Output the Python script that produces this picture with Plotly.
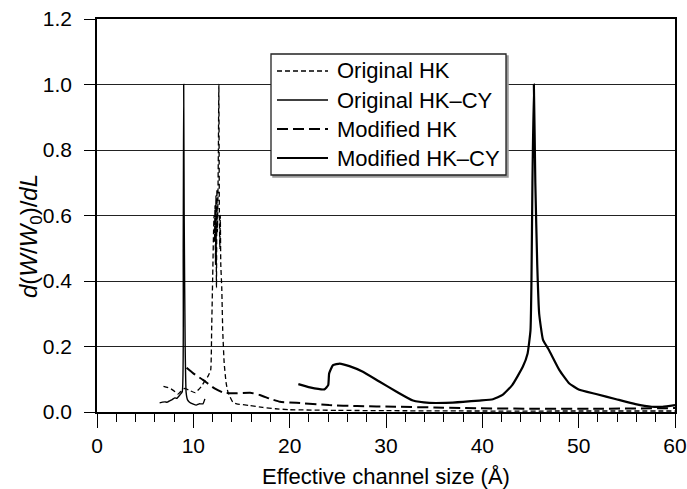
import plotly.graph_objects as go

# Effective channel size (Å) and normalised derivative d(W/W0)/dL for each model
orig_hk_x = [6.9, 7.3, 7.6, 8.1, 8.4, 9.1, 9.6, 10.2, 10.8, 11.2, 11.5, 11.8,
             11.9, 12.0, 12.1, 12.15, 12.2, 12.25, 12.3, 12.35, 12.4, 12.45,
             12.5, 12.55, 12.6, 12.65, 12.7, 12.75, 12.8, 12.85, 12.95, 13.05,
             13.2, 13.4, 13.6, 14.1, 14.5, 15.8, 17.2, 18.5, 20.0, 25.0, 30.0,
             40.0, 50.0, 60.0]
orig_hk_y = [0.078, 0.075, 0.072, 0.062, 0.055, 0.072, 0.066, 0.059, 0.077,
             0.095, 0.108, 0.128, 0.25, 0.40, 0.55, 0.60, 0.52, 0.63, 0.45,
             0.66, 0.38, 0.68, 0.55, 0.65, 0.80, 1.00, 0.62, 0.50, 0.60, 0.45,
             0.38, 0.25, 0.15, 0.09, 0.06, 0.03, 0.025, 0.02, 0.014, 0.010,
             0.007, 0.005, 0.004, 0.003, 0.003, 0.003]

orig_hkcy_x = [6.5, 6.8, 7.05, 7.3, 7.6, 7.8, 8.1, 8.3, 8.6, 8.85, 8.95, 9.0,
               9.05, 9.15, 9.25, 9.4, 9.6, 10.0, 10.3, 10.6, 11.0, 11.2]
orig_hkcy_y = [0.028, 0.030, 0.031, 0.030, 0.035, 0.038, 0.043, 0.042, 0.052,
               0.062, 0.50, 1.00, 0.60, 0.20, 0.06, 0.037, 0.030, 0.024,
               0.021, 0.025, 0.025, 0.040]

mod_hk_x = [9.3, 10.0, 11.0, 12.2, 13.1, 14.1, 15.9, 16.9, 18.0, 19.0, 20.7,
            24.1, 27.0, 31.0, 35.0, 38.0, 45.0, 52.0, 60.0]
mod_hk_y = [0.135, 0.118, 0.098, 0.072, 0.059, 0.057, 0.059, 0.052, 0.040,
            0.031, 0.028, 0.021, 0.018, 0.016, 0.014, 0.012, 0.010, 0.010,
            0.012]

mod_hkcy_x = [20.9, 22.1, 23.6, 24.0, 24.1, 24.5, 25.2, 26.2, 27.6, 29.3,
              31.1, 32.8, 34.5, 36.2, 38.0, 39.7, 41.1, 42.1, 43.1, 44.2,
              44.7, 45.0, 45.1, 45.2, 45.35, 45.5, 45.7, 45.9, 46.3, 46.9,
              48.0, 49.0, 50.0, 51.8, 53.9, 55.9, 57.6, 58.7, 60.0]
mod_hkcy_y = [0.085, 0.075, 0.069, 0.082, 0.118, 0.143, 0.148, 0.140, 0.123,
              0.093, 0.062, 0.035, 0.028, 0.028, 0.031, 0.035, 0.039, 0.052,
              0.082, 0.138, 0.179, 0.25, 0.40, 0.70, 1.00, 0.70, 0.45, 0.30,
              0.22, 0.19, 0.128, 0.088, 0.069, 0.055, 0.039, 0.024, 0.016,
              0.016, 0.021]

series_names = ["Original HK", "Original HK\u2013CY", "Modified HK",
                "Modified HK\u2013CY"]
x_ticks = [0, 10, 20, 30, 40, 50, 60]
y_ticks = [0.0, 0.2, 0.4, 0.6, 0.8, 1.0, 1.2]

FONT = "Liberation Sans, Arial, Helvetica, sans-serif"
styles = [
    dict(width=1.3, dash="5px,3px"),
    dict(width=1.4, dash="solid"),
    dict(width=2, dash="11px,5px"),
    dict(width=2.2, dash="solid"),
]
data = [(orig_hk_x, orig_hk_y), (orig_hkcy_x, orig_hkcy_y),
        (mod_hk_x, mod_hk_y), (mod_hkcy_x, mod_hkcy_y)]

fig = go.Figure()
for (xs, ys), name, st in zip(data, series_names, styles):
    fig.add_trace(go.Scatter(
        x=xs, y=ys, mode="lines", name=name, showlegend=False,
        line=dict(color="black", width=st["width"], dash=st["dash"],
                  shape="spline", smoothing=0.4),
    ))

fig.update_layout(
    width=687, height=489,
    margin=dict(l=97, r=12, t=19, b=77, autoexpand=False),
    paper_bgcolor="white", plot_bgcolor="white",
    font=dict(family=FONT, color="black", size=20),
)

fig.update_xaxes(
    range=[0, 60], tickvals=x_ticks, ticks="outside", ticklen=14,
    tickwidth=1.2, tickcolor="black", showgrid=False, zeroline=False,
    showline=True, linecolor="black", linewidth=1.5, mirror=True,
    tickfont=dict(size=21), automargin=False,
    minor=dict(dtick=2, ticks="outside", ticklen=8, tickwidth=1.2,
               tickcolor="black", showgrid=False),
    title=dict(text="Effective channel size (\u00c5)", font=dict(size=22),
               standoff=24),
)
fig.update_yaxes(
    range=[0, 1.2], tickvals=y_ticks, tickformat=".1f", ticks="outside",
    ticklen=11, tickwidth=1.2, tickcolor="black", showgrid=True,
    gridcolor="#222222", gridwidth=1.2, zeroline=False, showline=True,
    linecolor="black", linewidth=1.5, mirror=True, tickfont=dict(size=21),
    ticklabelstandoff=8, automargin=False,
)

# y-axis title with italic symbols and subscript
fig.add_annotation(
    text="<i>d</i>(<i>W</i>/<i>W</i><sub>0</sub>)/<i>dL</i>",
    xref="paper", yref="paper", x=(30 - 97) / 578, y=(412 - 236) / 393,
    textangle=-90, showarrow=False, font=dict(size=24),
    xanchor="center", yanchor="middle",
)

# legend box drawn in paper coordinates
def px_x(p):
    return (p - 97) / 578


def px_y(p):
    return (412 - p) / 393


fig.add_shape(type="rect", xref="paper", yref="paper",
              x0=px_x(273), x1=px_x(508), y0=px_y(177), y1=px_y(56),
              line=dict(color="#9a9a9a", width=1.5), fillcolor="#9a9a9a",
              layer="above")
fig.add_shape(type="rect", xref="paper", yref="paper",
              x0=px_x(271), x1=px_x(506), y0=px_y(175), y1=px_y(54),
              line=dict(color="#222222", width=1.3), fillcolor="white",
              layer="above")
row_y = [71, 100, 129, 158]
for name, st, ry in zip(series_names, styles, row_y):
    fig.add_shape(type="line", xref="paper", yref="paper",
                  x0=px_x(277), x1=px_x(328), y0=px_y(ry), y1=px_y(ry),
                  line=dict(color="black", width=st["width"], dash=st["dash"]),
                  layer="above")
    fig.add_annotation(text=name, xref="paper", yref="paper",
                       x=px_x(335), y=px_y(ry), xanchor="left",
                       yanchor="middle", showarrow=False,
                       font=dict(size=22))

fig.write_html("out.html")
